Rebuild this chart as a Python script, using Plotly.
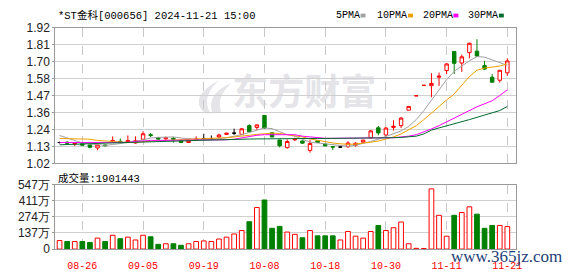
import plotly.graph_objects as go

# ---------------- data ----------------
dates = ["08-21","08-22","08-23","08-26","08-27","08-28","08-29","08-30",
         "09-02","09-03","09-04","09-05","09-06","09-09","09-10","09-11","09-12","09-13",
         "09-18","09-19","09-20","09-23","09-24","09-25","09-26","09-27","09-30",
         "10-08","10-09","10-10","10-11","10-14","10-15","10-16","10-17","10-18",
         "10-21","10-22","10-23","10-24","10-25","10-28","10-29","10-30","10-31",
         "11-01","11-04","11-05","11-06","11-07","11-08","11-11","11-12","11-13",
         "11-14","11-15","11-18","11-19","11-20","11-21"]

opens = [1.158,1.160,1.148,1.150,1.142,1.122,1.142,1.158,1.166,1.158,
         1.155,1.180,1.210,1.189,1.183,1.186,1.172,1.158,1.172,1.1825,
         1.1825,1.195,1.212,1.220,1.212,1.270,1.258,1.337,1.2225,1.175,
         1.124,1.176,1.168,1.106,1.170,1.148,1.131,1.128,1.130,1.140,
         1.160,1.189,1.2556,1.208,1.258,1.270,1.3725,1.468,1.537,1.535,
         1.591,1.635,1.762,1.685,1.754,1.764,1.668,1.591,1.571,1.620]
highs = [1.164,1.166,1.155,1.153,1.146,1.152,1.145,1.199,1.185,1.205,
         1.199,1.233,1.221,1.196,1.197,1.195,1.176,1.180,1.199,1.216,
         1.205,1.216,1.222,1.250,1.254,1.279,1.278,1.341,1.226,1.176,
         1.179,1.190,1.172,1.175,1.174,1.152,1.136,1.133,1.167,1.160,
         1.176,1.241,1.268,1.2615,1.306,1.327,1.3975,1.468,1.537,1.618,
         1.622,1.685,1.764,1.741,1.820,1.843,1.699,1.612,1.637,1.716]
lows = [1.152,1.148,1.135,1.138,1.120,1.107,1.133,1.155,1.152,1.155,
        1.150,1.175,1.193,1.178,1.175,1.158,1.155,1.155,1.170,1.175,
        1.178,1.187,1.208,1.208,1.208,1.225,1.241,1.249,1.193,1.126,
        1.118,1.168,1.150,1.091,1.155,1.133,1.108,1.124,1.124,1.130,
        1.156,1.185,1.206,1.202,1.2375,1.254,1.3725,1.468,1.537,1.458,
        1.533,1.612,1.612,1.626,1.716,1.726,1.639,1.554,1.556,1.600]
closes = [1.158,1.154,1.153,1.140,1.126,1.142,1.137,1.172,1.160,1.172,
          1.170,1.216,1.205,1.181,1.191,1.180,1.158,1.172,1.1825,1.1825,
          1.1825,1.208,1.220,1.220,1.249,1.229,1.275,1.254,1.195,1.137,
          1.165,1.182,1.154,1.152,1.158,1.136,1.128,1.128,1.155,1.153,
          1.174,1.235,1.222,1.254,1.266,1.320,1.3975,1.468,1.537,1.550,
          1.5975,1.679,1.683,1.726,1.816,1.731,1.645,1.558,1.637,1.699]
prev_close = 1.158

volume_wan = [72,64,64,64,56,93,64,117,88,101,
              77,117,104,40,45,45,32,45,64,69,
              64,85,101,128,157,232,352,416,176,192,
              144,125,96,157,112,112,112,77,149,109,
              93,149,200,157,181,229,45,6,5,510,
              286,109,286,310,358,296,176,200,200,190.1443]

ma5 = [1.205,1.190,1.170,1.155,1.148,1.142,1.140,1.145,1.150,1.158,
       1.165,1.178,1.188,1.192,1.195,1.195,1.188,1.182,1.180,1.178,
       1.180,1.183,1.190,1.198,1.210,1.225,1.238,1.255,1.250,1.230,
       1.210,1.200,1.180,1.160,1.155,1.150,1.140,1.135,1.133,1.140,
       1.150,1.165,1.180,1.200,1.215,1.235,1.265,1.310,1.370,1.440,
       1.510,1.575,1.630,1.665,1.700,1.728,1.724,1.706,1.686,1.670]
ma10 = [1.185,1.185,1.184,1.183,1.180,1.172,1.168,1.165,1.160,1.158,
        1.160,1.165,1.168,1.170,1.172,1.175,1.178,1.180,1.182,1.185,
        1.186,1.188,1.190,1.194,1.200,1.206,1.212,1.218,1.220,1.218,
        1.212,1.205,1.195,1.182,1.172,1.162,1.155,1.150,1.146,1.148,
        1.152,1.160,1.168,1.180,1.195,1.215,1.240,1.270,1.310,1.355,
        1.395,1.440,1.480,1.540,1.595,1.637,1.652,1.658,1.665,1.679]
ma20 = [1.158,1.158,1.158,1.158,1.158,1.158,1.158,1.158,1.158,1.159,
        1.165,1.170,1.172,1.172,1.172,1.172,1.172,1.172,1.172,1.172,
        1.172,1.172,1.176,1.180,1.190,1.200,1.206,1.210,1.210,1.210,
        1.210,1.210,1.200,1.195,1.190,1.186,1.186,1.186,1.186,1.186,
        1.186,1.186,1.186,1.187,1.190,1.195,1.200,1.210,1.228,1.248,
        1.270,1.295,1.320,1.345,1.373,1.395,1.415,1.435,1.470,1.508]
ma30 = [1.143,1.144,1.145,1.147,1.149,1.152,1.154,1.155,1.157,1.158,
        1.160,1.161,1.162,1.164,1.165,1.166,1.168,1.170,1.172,1.174,
        1.175,1.176,1.178,1.179,1.180,1.181,1.182,1.183,1.184,1.185,
        1.185,1.185,1.185,1.185,1.185,1.185,1.185,1.185,1.185,1.185,
        1.185,1.186,1.187,1.188,1.190,1.192,1.196,1.200,1.215,1.240,
        1.255,1.268,1.280,1.295,1.310,1.325,1.340,1.350,1.370,1.397]

price_tick_labels = ["1.02","1.13","1.24","1.36","1.47","1.58","1.70","1.81","1.92"]
vol_tick_labels = ["0","137万","274万","411万","547万"]
date_tick_labels = ["08-26","09-05","09-19","10-08","10-18","10-30","11-11","11-21"]
title_text = "*ST金科[000656] 2024-11-21 15:00"
ma_names = ["5PMA","10PMA","20PMA","30PMA"]

# ---------------- styles ----------------
RED = "#ff0000"
GREEN = "#008000"
MA_COLORS = ["#a0a0a0", "#f0a000", "#ff00ff", "#006b2f"]
WM = "#e4e4e9"
W, H = 578, 276
X0, X1 = 56, 522
def px(xp): return xp / W
def py(yp): return 1 - yp / H

n = len(dates)
xs = list(range(n))

# classify candles
up_idx, down_idx, flat_idx = [], [], []
pc = prev_close
for i, (o, c) in enumerate(zip(opens, closes)):
    if c > o or (c == o and c > pc):
        up_idx.append(i)
    elif c < o or (c == o and c < pc):
        down_idx.append(i)
    else:
        flat_idx.append(i)
    pc = c

fig = go.Figure()

def add_candles(idx, line_color, fill_color):
    if not idx:
        return
    fig.add_trace(go.Candlestick(
        x=[xs[i] for i in idx],
        open=[opens[i] for i in idx], high=[highs[i] for i in idx],
        low=[lows[i] for i in idx], close=[closes[i] for i in idx],
        increasing=dict(line=dict(color=line_color, width=1), fillcolor=fill_color),
        decreasing=dict(line=dict(color=line_color, width=1), fillcolor=fill_color),
        whiskerwidth=0, showlegend=False, hoverinfo="skip",
        xaxis="x", yaxis="y"))

add_candles(up_idx, RED, "#ffffff")
add_candles(down_idx, GREEN, GREEN)
add_candles(flat_idx, "#000000", "#000000")

for vals, col in zip([ma5, ma10, ma20, ma30], MA_COLORS):
    fig.add_trace(go.Scatter(x=xs, y=vals, mode="lines", line=dict(color=col, width=1),
                             showlegend=False, hoverinfo="skip", xaxis="x", yaxis="y"))

vu = [i for i in xs if closes[i] >= opens[i]]
vd = [i for i in xs if closes[i] < opens[i]]
fig.add_trace(go.Bar(x=vu, y=[volume_wan[i] for i in vu], width=0.62,
                     marker=dict(color="#ffffff", line=dict(color=RED, width=1)),
                     showlegend=False, hoverinfo="skip", xaxis="x2", yaxis="y2"))
fig.add_trace(go.Bar(x=vd, y=[volume_wan[i] for i in vd], width=0.62,
                     marker=dict(color=GREEN, line=dict(color=GREEN, width=1)),
                     showlegend=False, hoverinfo="skip", xaxis="x2", yaxis="y2"))

tick_idx = [dates.index(d) for d in date_tick_labels]
xrange = [-0.56, 60.1]
pmin, pmax = float(price_tick_labels[0]), float(price_tick_labels[-1])
pstep = (pmax - pmin) / (len(price_tick_labels) - 1)
price_tickvals = [pmin + k * pstep for k in range(len(price_tick_labels))]
vmax = 547
vol_tickvals = [vmax * k / 4 for k in range(5)]

axis_common = dict(showline=True, mirror=True, linecolor="#999999", linewidth=1, zeroline=False)

fig.update_layout(
    width=W, height=H, margin=dict(l=0, r=0, t=0, b=0),
    paper_bgcolor="white", plot_bgcolor="white", showlegend=False,
    boxgap=0.35, barmode="overlay",
    xaxis=dict(domain=[px(X0), px(X1)], range=xrange, anchor="y", tickvals=tick_idx,
               showticklabels=False, ticks="", showgrid=True, gridcolor="#c8c8c8",
               griddash="dash", gridwidth=1, rangeslider=dict(visible=False), **axis_common),
    yaxis=dict(domain=[py(164.7), py(21.7)], range=[pmin, pmax], anchor="x",
               tickvals=price_tickvals, ticktext=price_tick_labels,
               ticks="outside", ticklen=2, tickcolor="#999999",
               tickfont=dict(family="Liberation Sans, Arial", size=12, color="#222222"),
               showgrid=True, gridcolor="#d0d0d0", gridwidth=1, **axis_common),
    xaxis2=dict(domain=[px(X0), px(X1)], range=xrange, anchor="y2", tickvals=tick_idx,
                ticktext=date_tick_labels, ticks="", ticklabelstandoff=7,
                tickfont=dict(family="Liberation Mono, monospace", size=10, color=RED),
                showgrid=True, gridcolor="#c8c8c8", griddash="dash", gridwidth=1,
                rangeslider=dict(visible=False), **axis_common),
    yaxis2=dict(domain=[py(255), py(187)], range=[0, vmax], anchor="x2",
                tickvals=vol_tickvals, ticktext=vol_tick_labels,
                ticks="outside", ticklen=2, tickcolor="#999999",
                tickfont=dict(family="Liberation Sans, Arial", size=12, color="#222222"),
                showgrid=True, gridcolor="#d0d0d0", gridwidth=1, **axis_common),
)

mono = "Liberation Mono, Noto Sans CJK SC, monospace"
ann = []
ann.append(dict(text=title_text, x=px(57), y=py(9), xref="paper", yref="paper",
                xanchor="left", yanchor="middle", showarrow=False,
                font=dict(family=mono, size=10.5, color="#000000")))
legend_x = [338, 380, 426, 472]
marker_x = [365, 413, 459, 505]
for name, col, lx, mx in zip(ma_names, MA_COLORS, legend_x, marker_x):
    ann.append(dict(text=name, x=px(lx), y=py(9), xref="paper", yref="paper",
                    xanchor="left", yanchor="middle", showarrow=False,
                    font=dict(family=mono, size=10, color="#000000")))
ann.append(dict(text="成交量:%d" % round(volume_wan[-1] * 10000), x=px(57), y=py(181),
                xref="paper", yref="paper", xanchor="left", yanchor="middle", showarrow=False,
                font=dict(family=mono, size=10.5, color="#000000")))
ann.append(dict(text="www.365jz.com", x=px(513), y=py(263), xref="paper", yref="paper",
                xanchor="center", yanchor="middle", showarrow=False,
                font=dict(family="Liberation Serif, serif", size=17, color="#1f3f77")))

shapes = []
for col, mx in zip(MA_COLORS, marker_x):
    shapes.append(dict(type="rect", xref="paper", yref="paper",
                       x0=px(mx), x1=px(mx + 5), y0=py(11), y1=py(7),
                       fillcolor=col, line=dict(width=0)))

# watermark (logo + text) behind data
def path_px(pts):
    s = ""
    for cmd, coords in pts:
        s += cmd + " " + " ".join("%.5f,%.5f" % (px(a), py(b)) for a, b in coords) + " "
    return s + "Z"

logo1 = path_px([("M", [(207, 112)]), ("Q", [(190, 95), (222, 77)]),
                 ("Q", [(203, 94), (213, 112)])])
logo2 = path_px([("M", [(215, 112)]), ("Q", [(208, 92), (234, 80)]),
                 ("Q", [(218, 96), (224, 110)])])
for p in (logo1, logo2):
    shapes.append(dict(type="path", xref="paper", yref="paper", layer="below",
                       path=p, fillcolor=WM, line=dict(width=0)))
shapes.append(dict(type="rect", xref="paper", yref="paper", layer="below",
                   x0=px(236), x1=px(380), y0=py(113), y1=py(73),
                   fillcolor="rgba(0,0,0,0)", line=dict(width=0),
                   label=dict(text="东方财富", textposition="middle center",
                              font=dict(family="Noto Sans CJK SC", size=36, color=WM,
                                        weight="bold"))))

fig.update_layout(annotations=ann, shapes=shapes)
fig.write_html("out.html")
